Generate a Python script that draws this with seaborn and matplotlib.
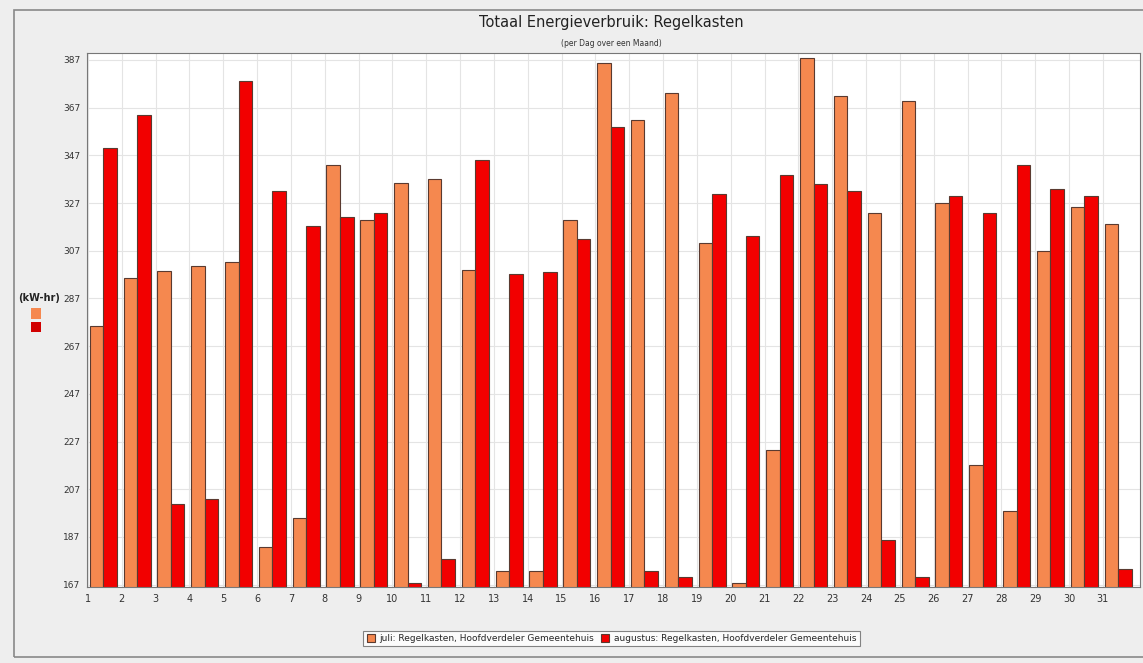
import pandas as pd
import numpy as np
import matplotlib
matplotlib.use("Agg")
import matplotlib.pyplot as plt
import seaborn as sns
from matplotlib.patches import Rectangle

days = list(range(1, 32))
juli = [275.6, 295.4, 298.3, 300.4, 302.4, 182.7, 195.1, 343.0, 319.9, 335.3,
        337.2, 299.1, 172.8, 172.8, 319.9, 385.6, 361.9, 373.1, 310.3, 167.5,
        223.6, 387.6, 371.8, 322.9, 369.7, 326.9, 217.3, 197.8, 307.0, 325.4,
        318.1]
augustus = [349.9, 363.9, 200.6, 202.8, 378.1, 332.1, 317.4, 321.2, 323.0, 167.5,
            177.7, 345.0, 297.3, 298.0, 312.0, 358.8, 172.8, 170.0, 330.8, 313.2,
            338.6, 335.1, 331.9, 185.9, 170.0, 330.1, 322.9, 342.8, 333.0, 330.1,
            173.5]
series = ["juli: Regelkasten, Hoofdverdeler Gemeentehuis",
          "augustus: Regelkasten, Hoofdverdeler Gemeentehuis"]
y_ticks = list(range(167, 388, 20))

df = pd.DataFrame({
    "Dag": days * 2,
    "kWh": juli + augustus,
    "Serie": [series[0]] * len(days) + [series[1]] * len(days),
})

sns.set_style("white")
plt.rcParams['font.family'] = ['DejaVu Sans']

fig = plt.figure(figsize=(11.43, 6.63), dpi=100, facecolor="#EEEEEE")
ax = fig.add_axes([0.0761, 0.1146, 0.9213, 0.8062])
ax.set_facecolor("white")

sns.barplot(data=df, x="Dag", y="kWh", hue="Serie", ax=ax,
            palette=["#F5884F", "#F20000"], saturation=1, width=0.8,
            edgecolor="#5A3A30", linewidth=0.8, errorbar=None)

ax.set_ylim(166, 390.1)
ax.set_xlim(-0.48, 30.65)
ax.set_yticks(y_ticks)
ax.set_yticklabels([str(v) for v in y_ticks], fontsize=6.5, color="#333333")
ax.set_xticks([i - 0.45 for i in range(len(days))])
ax.set_xticklabels([str(d) for d in days], fontsize=7, color="#333333")
ax.tick_params(axis="both", length=3, width=0.6, color="#555555", pad=2)
ax.set_axisbelow(True)
ax.grid(True, color="#E4E4E4", linewidth=0.8)
ax.set_xlabel("")
ax.set_ylabel("")
for s in ax.spines.values():
    s.set_color("#777777")
    s.set_linewidth(0.8)

handles, labels = ax.get_legend_handles_labels()
ax.get_legend().remove()
leg = fig.legend(handles, labels, loc="center", bbox_to_anchor=(0.535, 0.0365),
                 ncol=2, fontsize=6.5, frameon=True, fancybox=False,
                 handlelength=0.9, handleheight=0.9, handletextpad=0.5,
                 columnspacing=0.8, borderpad=0.35)
leg.get_frame().set_edgecolor("#666666")
leg.get_frame().set_linewidth(0.8)
leg.get_frame().set_facecolor("white")

fig.text(0.535, 0.966, "Totaal Energieverbruik: Regelkasten", ha="center",
         va="center", fontsize=10.5, color="#222222")
fig.text(0.535, 0.935, "(per Dag over een Maand)", ha="center", va="center",
         fontsize=5.5, color="#333333")

# left-hand unit key
fig.text(0.034, 0.55, "(kW-hr)", ha="center", va="center", fontsize=7,
         fontweight="bold", color="#222222")
fig.patches.append(Rectangle((0.027, 0.519), 0.009, 0.016, transform=fig.transFigure,
                             facecolor="#F5884F", edgecolor="none"))
fig.patches.append(Rectangle((0.027, 0.499), 0.009, 0.016, transform=fig.transFigure,
                             facecolor="#D10000", edgecolor="none"))

# outer panel frame
fig.patches.append(Rectangle((0.0122, 0.009), 1.2, 0.976, transform=fig.transFigure,
                             facecolor="none", edgecolor="#888888", linewidth=1.2))

fig.savefig("out.png", dpi=100, facecolor=fig.get_facecolor())
